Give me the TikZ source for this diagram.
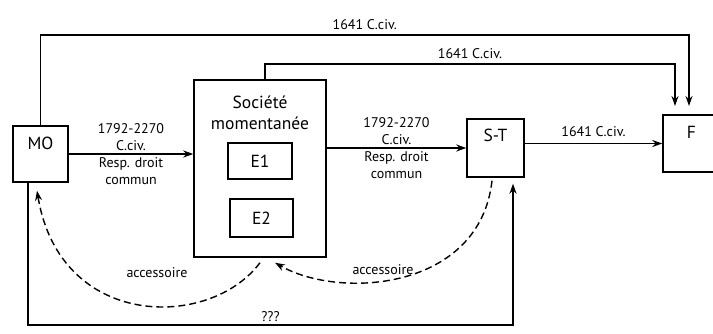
\documentclass[tikz,border=0pt]{standalone}
\usepackage{fontspec}
\setmainfont{PT Sans}
\usetikzlibrary{arrows.meta}

\begin{document}
\begin{tikzpicture}[x=1pt,y=-1pt,line width=1.4pt,
                    >={Stealth[length=10pt,width=7pt]},
                    box/.style={draw,inner sep=0pt,font=\fontsize{17.5}{20}\selectfont},
                    title/.style={align=center,inner sep=0pt,font=\fontsize{17.5}{21}\selectfont},
                    lbl/.style={align=center,inner sep=1pt,font=\fontsize{14}{16.5}\selectfont},
                    conn/.style={->},
                    backlink/.style={->,dash pattern=on 7pt off 4pt}]
  \clip (0,0) rectangle (713,334);
  % boxes
  \node[box,minimum width=55pt,minimum height=56pt] (MO) at (40.5,154) {};
  \node[title] (MOtxt) at (40.5,143) {MO};
  \node[box,minimum width=132pt,minimum height=177pt] (soc) at (260,168.5) {};
  \node[title] (socName) at (260,112.5) {Société\\momentanée};
  \node[box,minimum width=64pt,minimum height=36pt] (E1) at (260,161) {E1};
  \node[box,minimum width=63pt,minimum height=38pt] (E2) at (261.5,218) {E2};
  \node[box,minimum width=57pt,minimum height=58pt] (ST) at (495.5,148) {};
  \node[title] (STtxt) at (495.5,135) {S-T};
  \node[box,minimum width=57pt,minimum height=57pt] (F) at (691.5,143.5) {};
  \node[title] (Ftxt) at (691.5,132) {F};
  % helper points
  \coordinate (topY) at (0,35);
  \coordinate (midY) at (0,64);
  \coordinate (botY) at (0,325);
  \coordinate (inA) at (689,106);
  \coordinate (inB) at (675,106);
  \coordinate (socTop) at ([xshift=5pt]soc.north);
  \coordinate (moFoot) at ([xshift=-12.5pt]MO.south);
  \coordinate (stFoot) at ([xshift=17.5pt,yshift=-6pt]ST.south);
  % main flow
  \draw[conn] (MO.east) -- (MO.east -| soc.west)
    node[lbl,midway,above=2pt] {1792-2270\\C.civ.}
    node[lbl,midway,below=2pt] {Resp. droit\\commun};
  \draw[conn] (soc.east |- ST.west) -- (ST.west)
    node[lbl,midway,above=2pt] {1792-2270\\C.civ.}
    node[lbl,midway,below=2pt] {Resp. droit\\commun};
  \draw[conn] (F.west -| ST.east) -- (F.west)
    node[lbl,midway,above=5pt] {1641 C.civ.};
  % direct links to F
  \draw[conn] (MO.north) -- (MO.north |- topY) -| (inA)
    node[lbl,pos=0.25,above=4pt] {1641 C.civ.};
  \draw[conn] (socTop) -- (socTop |- midY) -| (inB)
    node[lbl,pos=0.25,above=4pt] {1641 C.civ.};
  \draw[conn] (moFoot) -- (moFoot |- botY) -| (stFoot)
    node[lbl,pos=0.25,above=2pt] {???};
  % accessory links
  \draw[backlink] ([yshift=-5pt]soc.south) .. controls (210,330) and (60,330) .. ([xshift=-3.5pt,yshift=-8pt]MO.south);
  \draw[backlink] ([xshift=-3.5pt,yshift=-3pt]ST.south) .. controls (480,290) and (340,300) .. ([xshift=15pt,yshift=-5pt]soc.south);
  \node[lbl] (acc1) at (157,273) {accessoire};
  \node[lbl] (acc2) at (383,270) {accessoire};
\end{tikzpicture}
\end{document}
